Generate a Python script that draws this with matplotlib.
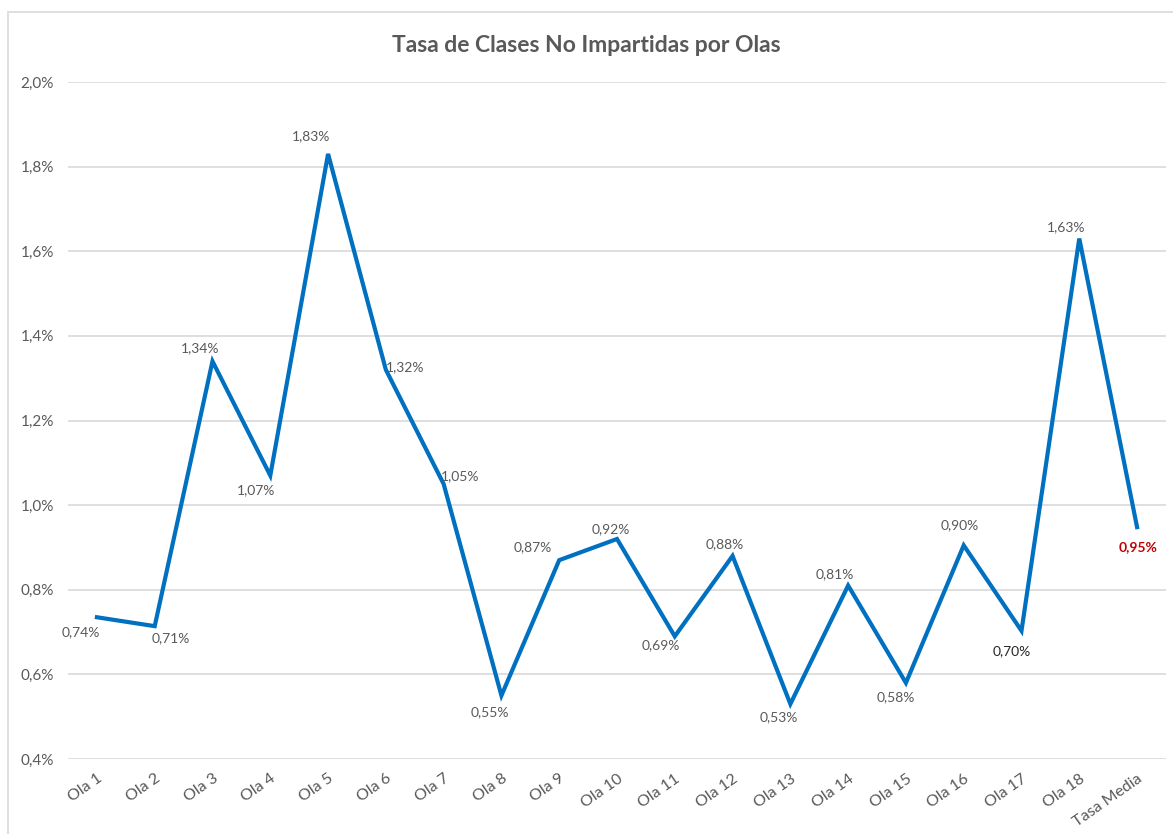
import matplotlib
matplotlib.use("Agg")
import matplotlib.pyplot as plt
from matplotlib.patches import Rectangle
from matplotlib.ticker import FuncFormatter

# data (percent)
olas = ["Ola 1", "Ola 2", "Ola 3", "Ola 4", "Ola 5", "Ola 6", "Ola 7", "Ola 8",
        "Ola 9", "Ola 10", "Ola 11", "Ola 12", "Ola 13", "Ola 14", "Ola 15",
        "Ola 16", "Ola 17", "Ola 18", "Tasa Media"]
tasa = [0.735, 0.714, 1.34, 1.07, 1.83, 1.32, 1.05, 0.55, 0.87, 0.92, 0.69,
        0.88, 0.53, 0.81, 0.58, 0.905, 0.703, 1.63, 0.948]
etiquetas = ["0,74%", "0,71%", "1,34%", "1,07%", "1,83%", "1,32%", "1,05%",
             "0,55%", "0,87%", "0,92%", "0,69%", "0,88%", "0,53%", "0,81%",
             "0,58%", "0,90%", "0,70%", "1,63%", "0,95%"]

# label offsets in pixels relative to each point
offsets = [(-16, -15), (16, -12), (-12, 13), (-14, -15), (-17, 18), (19, 3),
           (16, 8), (-12, -17), (-26, 13), (-6, 10), (-14, -9), (-8, 12),
           (-12, -13), (-13, 11), (-10, -14), (-4, 20), (-10, -20), (-13, 11),
           (1, -20)]

plt.rcParams["font.family"] = ["Lato", "DejaVu Sans"]
gray = "#595959"

fig = plt.figure(figsize=(11.73, 8.34), dpi=100)
fig.patches.append(Rectangle((8 / 1173, -0.1), 1.2, 1 - 12 / 834 + 0.1,
                             transform=fig.transFigure, fill=False,
                             edgecolor="#D9D9D9", linewidth=1.2))
ax = fig.add_axes([0.058, 0.0899, 0.936, 0.8118])

x = list(range(len(olas)))
ax.plot(x, tasa, color="#0070C0", linewidth=3, solid_joinstyle="miter", zorder=3)

for i, (v, lab, off) in enumerate(zip(tasa, etiquetas, offsets)):
    color, weight = gray, "normal"
    if i == 16:
        color = "#262626"
    if i == len(tasa) - 1:
        color, weight = "#C00000", "bold"
    ax.annotate(lab, (i, v), xytext=off, textcoords="offset pixels",
                ha="center", va="center", fontsize=10, color=color,
                fontweight=weight)

ax.set_xlim(-0.5, len(olas) - 0.5)
ax.set_ylim(0.4, 2.0)
ax.set_yticks([0.4, 0.6, 0.8, 1.0, 1.2, 1.4, 1.6, 1.8, 2.0])
ax.yaxis.set_major_formatter(FuncFormatter(lambda v, p: f"{v:.1f}%".replace(".", ",")))
ax.set_xticks(x)
ax.set_xticklabels(olas, rotation=35, ha="right", rotation_mode="anchor")
ax.tick_params(axis="both", length=0, labelsize=11, colors=gray)
ax.tick_params(axis="x", labelsize=11.5, pad=9)
ax.tick_params(axis="y", pad=10)
ax.grid(axis="y", color="#D9D9D9", linewidth=1.2)
ax.set_axisbelow(True)
for s in ax.spines.values():
    s.set_visible(False)

fig.text(0.5, 1 - 45 / 834, "Tasa de Clases No Impartidas por Olas",
         ha="center", va="center", fontsize=16.5, fontweight="bold", color=gray)

fig.savefig("out.png", dpi=100)
